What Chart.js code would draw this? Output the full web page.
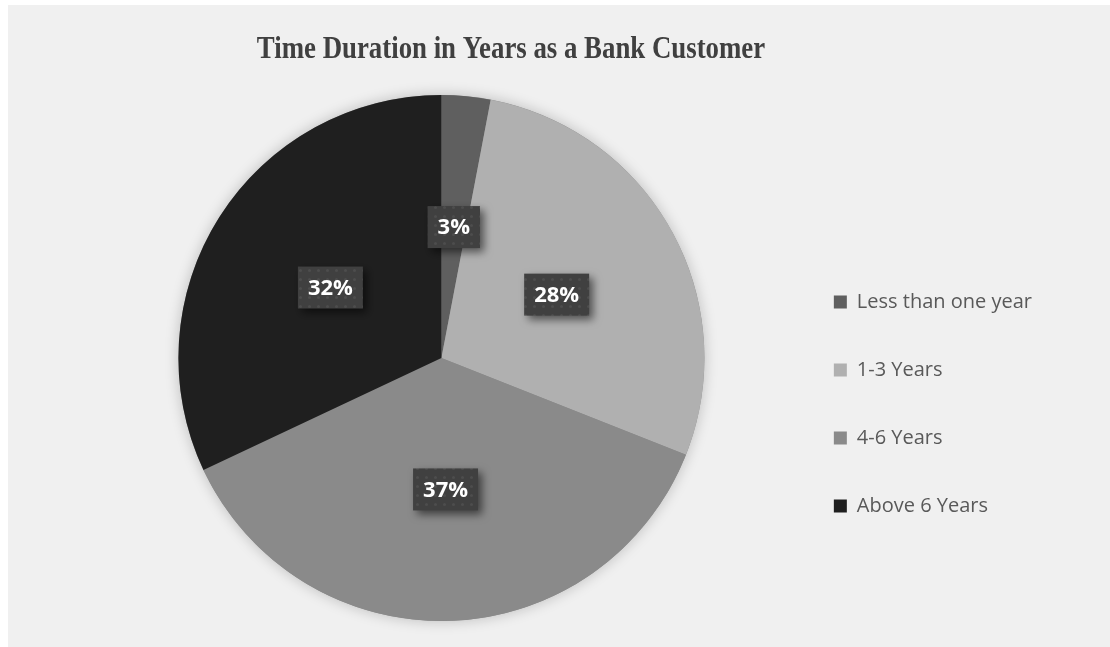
<!DOCTYPE html>
<html>
<head>
<meta charset="utf-8">
<title>Time Duration in Years as a Bank Customer</title>
<script src="https://cdn.jsdelivr.net/npm/chart.js@4/dist/chart.umd.min.js"></script>
<style>
    html, body { margin: 0; padding: 0; background: #ffffff; }
    #wrap {
        position: absolute;
        left: 8px;
        top: 5px;
        width: 1102px;
        height: 642px;
        background: #f0f0f0;
    }
</style>
</head>
<body>
<div id="wrap">
    <canvas id="DurationChart" width="1102" height="642"></canvas>
</div>
<script>
let ChartTitle = "Time Duration in Years as a Bank Customer";
let Durations = ["Less than one year", "1-3 Years", "4-6 Years", "Above 6 Years"];
let Shares = [3, 28, 37, 32];

const darkGrey = "#5f5f5f";
const lightGrey = "#b0b0b0";
const midGrey = "#8a8a8a";
const nearBlack = "#1f1f1f";
const sliceColors = [darkGrey, lightGrey, midGrey, nearBlack];

// dotted fill used behind the percentage labels
function makeDotPattern(ctx){
    let tile = document.createElement("canvas");
    tile.width = 9;
    tile.height = 9;
    let t = tile.getContext("2d");
    t.fillStyle = "#404040";
    t.fillRect(0, 0, 9, 9);
    t.fillStyle = "#4d4d4d";
    t.beginPath();
    t.arc(4.5, 4.5, 1.5, 0, Math.PI * 2);
    t.fill();
    return ctx.createPattern(tile, "repeat");
}

// narrow serif heading, centred a bit left of the canvas middle
const titlePlugin = {
    id: "titleText",
    afterDraw(chart){
        let ctx = chart.ctx;
        ctx.save();
        ctx.font = "bold 31px 'Liberation Serif', 'Times New Roman', serif";
        ctx.fillStyle = "#404040";
        ctx.textAlign = "center";
        ctx.textBaseline = "alphabetic";
        ctx.translate(503, 53);
        ctx.scale(0.865, 1);
        ctx.fillText(ChartTitle, 0, 0);
        ctx.restore();
    }
};

// soft shadow under the whole pie
const pieShadow = {
    id: "pieShadow",
    beforeDatasetsDraw(chart){
        let arc = chart.getDatasetMeta(0).data[0];
        if (!arc) return;
        let ctx = chart.ctx;
        ctx.save();
        ctx.shadowColor = "rgba(0,0,0,0.22)";
        ctx.shadowBlur = 14;
        ctx.fillStyle = "#8a8a8a";
        ctx.beginPath();
        ctx.arc(arc.x, arc.y, arc.outerRadius, 0, Math.PI * 2);
        ctx.fill();
        ctx.restore();
    }
};

const percentLabels = {
    id: "percentLabels",
    afterDatasetsDraw(chart){
        let ctx = chart.ctx;
        let pattern = makeDotPattern(ctx);
        let meta = chart.getDatasetMeta(0);
        ctx.save();
        ctx.font = "bold 22px 'Open Sans', sans-serif";
        ctx.textAlign = "center";
        ctx.textBaseline = "middle";
        meta.data.forEach((arc, i) => {
            let pos = arc.tooltipPosition();
            let text = Shares[i] + "%";
            let w = ctx.measureText(text).width + 20;
            let h = 42;
            ctx.save();
            ctx.shadowColor = "rgba(0,0,0,0.55)";
            ctx.shadowBlur = 8;
            ctx.shadowOffsetX = 4;
            ctx.shadowOffsetY = 4;
            ctx.fillStyle = pattern;
            ctx.fillRect(pos.x - w / 2, pos.y - h / 2, w, h);
            ctx.restore();
            ctx.fillStyle = "#ffffff";
            ctx.fillText(text, pos.x, pos.y + 1);
        });
        ctx.restore();
    }
};

new Chart("DurationChart", {
    type: "pie",
    data: {
        labels: Durations,
        datasets: [{
            data: Shares,
            backgroundColor: sliceColors,
            borderWidth: 0
        }]
    },
    options: {
        responsive: false,
        animation: false,
        layout: {
            padding: {left: 89, right: 68, top: 90, bottom: 26}
        },
        plugins: {
            tooltip: {enabled: false},
            title: {display: false},
            legend: {
                display: true,
                position: "right",
                title: {
                    display: true,
                    text: "",
                    font: {size: 12, lineHeight: 1},
                    padding: {top: 40, bottom: 40}
                },
                labels: {
                    boxWidth: 13,
                    boxHeight: 13,
                    padding: 48,
                    color: "#595959",
                    font: {family: "'Open Sans', sans-serif", size: 20}
                }
            }
        }
    },
    plugins: [pieShadow, percentLabels, titlePlugin]
});
</script>
</body>
</html>
